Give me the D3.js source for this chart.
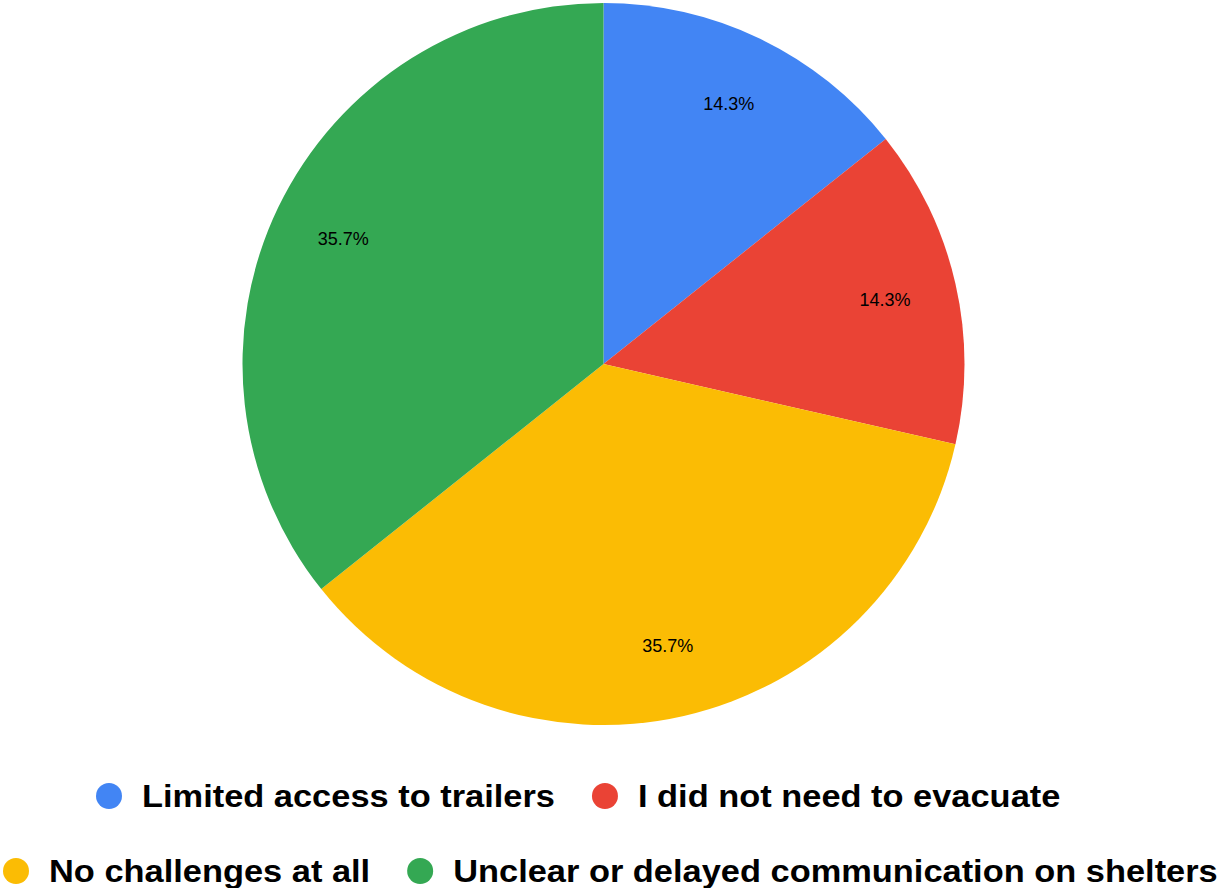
<!DOCTYPE html>
<html>
<head>
<meta charset="utf-8">
<script src="https://cdn.jsdelivr.net/npm/d3@7"></script>
<style>
  html, body { margin: 0; padding: 0; background: #fff; }
  svg { display: block; }
</style>
</head>
<body>
<svg id="chart" width="1220" height="888"></svg>
<script>
const categories = ["Limited access to trailers", "I did not need to evacuate", "No challenges at all", "Unclear or delayed communication on shelters"];
const values = [2, 2, 5, 5];
const colors = ["#4285F4", "#EA4335", "#FBBC04", "#34A853"];
const legendRows = [[0, 1], [2, 3]];

const svg = d3.select("#chart");
const W = 1220;
const cx = 603.5, cy = 364, R = 361;

const data = categories.map((c, i) => ({ name: c, value: values[i], color: colors[i] }));
const total = d3.sum(values);
const pie = d3.pie().value(d => d.value).sort(null);
const arcs = pie(data);
const arc = d3.arc().innerRadius(0).outerRadius(R);
const labelArc = d3.arc().innerRadius(R * 0.8).outerRadius(R * 0.8);

const g = svg.append("g").attr("transform", `translate(${cx},${cy})`);
g.selectAll("path.slice").data(arcs).join("path")
  .attr("class", "slice")
  .attr("d", arc)
  .attr("fill", d => d.data.color);

const fmt = d3.format(".1%");
g.selectAll("text.lbl").data(arcs).join("text")
  .attr("class", "lbl")
  .attr("transform", d => `translate(${labelArc.centroid(d)})`)
  .attr("text-anchor", "middle")
  .attr("dominant-baseline", "central")
  .attr("font-family", "Liberation Sans, Arial, sans-serif")
  .attr("font-size", 18)
  .attr("fill", "#000")
  .text(d => fmt(d.data.value / total));

// Legend
const rowY = [796, 871];
const rowStart = [96, 3];
const cr = 13, textOffset = 46, itemGap = 37, sx = 1.075;
legendRows.forEach((row, ri) => {
  let x = rowStart[ri];
  row.forEach(idx => {
    const d = data[idx];
    svg.append("circle")
      .attr("cx", x + cr).attr("cy", rowY[ri]).attr("r", cr)
      .attr("fill", d.color);
    const t = svg.append("text")
      .attr("transform", `translate(${x + textOffset},${rowY[ri] + 11}) scale(${sx},1)`)
      .attr("font-family", "Liberation Sans, Arial, sans-serif")
      .attr("font-weight", "bold")
      .attr("font-size", 32)
      .attr("fill", "#000")
      .text(d.name);
    const w = t.node().getComputedTextLength() * sx;
    x = x + textOffset + w + itemGap;
  });
});
</script>
</body>
</html>
